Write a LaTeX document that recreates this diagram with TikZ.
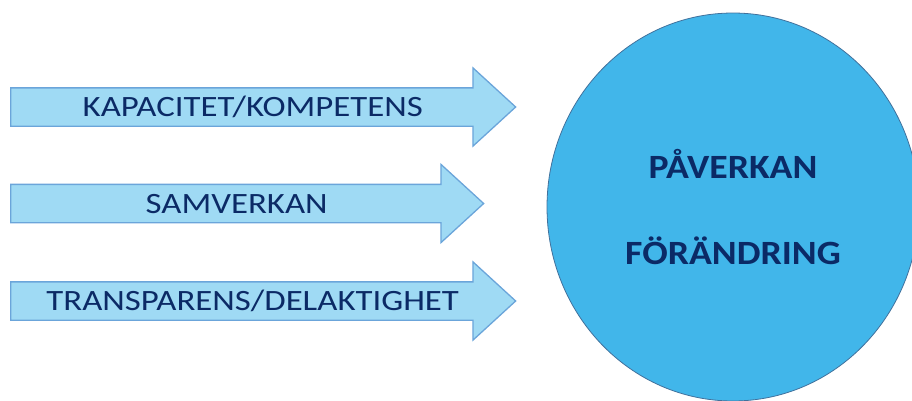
\documentclass[tikz,border=0pt]{standalone}
\usepackage{fontspec}
\setmainfont{Carlito}
\newfontfamily\arrowfont[FakeStretch=1.18]{Carlito}
\newfontfamily\ringfont[FakeStretch=1.11]{Carlito}
\usetikzlibrary{shapes.arrows, shapes.geometric}
\definecolor{arrowfill}{HTML}{9FDAF4}
\definecolor{arrowline}{HTML}{6BA5DA}
\definecolor{ringfill}{HTML}{41B6EA}
\definecolor{ringline}{HTML}{41719C}
\definecolor{navytext}{HTML}{0B2A66}
\tikzset{
  factor/.style={single arrow, draw=arrowline, fill=arrowfill, line width=1.3pt,
    single arrow head extend=20pt, single arrow tip angle=85,
    text height=19pt, text depth=0pt, inner ysep=9pt, anchor=tail,
    font=\arrowfont\fontsize{29.5}{30}\selectfont, text=navytext},
  impact/.style={ellipse, draw=ringline, fill=ringfill, line width=0.8pt,
    minimum width=372pt, minimum height=388pt, align=center,
    font=\ringfont\bfseries\fontsize{34}{86}\selectfont, text=navytext}
}
\begin{document}
\begin{tikzpicture}[x=1pt,y=-1pt]
  \useasboundingbox (0,0) rectangle (912,400);
  \clip (0,0) rectangle (912,400);
  % three arrows
  \node[factor, minimum height=505pt] (kapacitet) at (10,107) {KAPACITET/KOMPETENS};
  \node[factor, minimum height=473pt] (samverkan) at (10,203.5) {SAMVERKAN};
  \node[factor, minimum height=505pt] (transparens) at (10,301) {TRANSPARENS/DELAKTIGHET};
  % the circle
  \node[impact] (paverkan) at (733,207) {PÅVERKAN\\FÖRÄNDRING};
\end{tikzpicture}
\end{document}
